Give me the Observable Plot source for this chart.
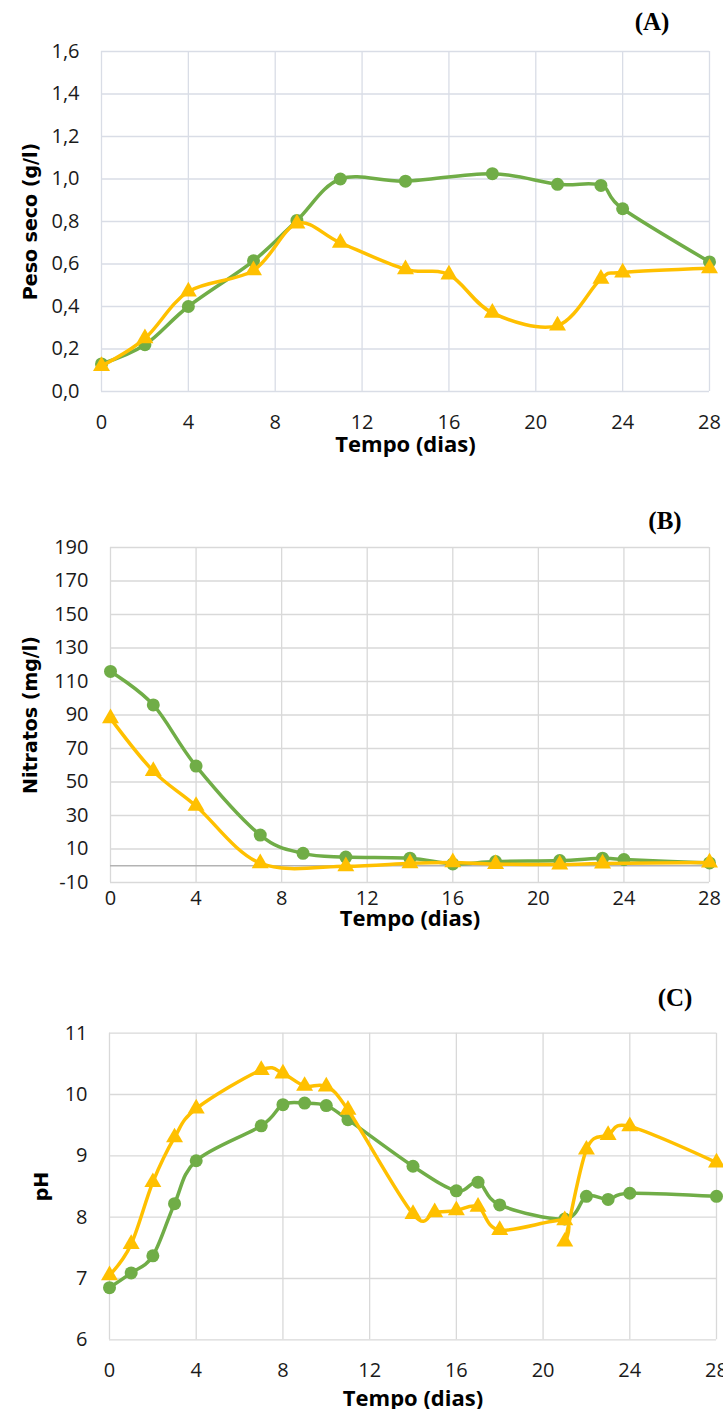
<!DOCTYPE html>
<html><head><meta charset="utf-8">
<script src="https://cdn.jsdelivr.net/npm/d3@7"></script>
<script src="https://cdn.jsdelivr.net/npm/@observablehq/plot@0.6"></script>
<style>
body{margin:0;background:#fff;width:723px;height:1409px;position:relative;overflow:hidden}
.panel{position:absolute;left:0}
.tag{position:absolute;font-family:"Liberation Serif";font-weight:bold;font-size:25px;color:#000;transform:translate(-50%,-50%);line-height:1}
</style></head><body>
<div id="A" class="panel" style="top:0"></div>
<div id="B" class="panel" style="top:470px"></div>
<div id="C" class="panel" style="top:950px"></div>
<div class="tag" style="left:652px;top:21px">(A)</div>
<div class="tag" style="left:665px;top:520px">(B)</div>
<div class="tag" style="left:675px;top:997px">(C)</div>
<script>
// X ticks (dias)
const xTicks = [0,4,8,12,16,20,24,28];

// (A) Peso seco (g/l)
const diaA_verde = [0,2,4,7,9,11,14,18,21,23,24,28];
const pesoA_verde = [0.13,0.22,0.40,0.615,0.805,1.0,0.99,1.025,0.975,0.97,0.86,0.61];
const diaA_amarelo = [0,2,4,7,9,11,14,16,18,21,23,24,28];
const pesoA_amarelo = [0.12,0.25,0.47,0.57,0.79,0.70,0.575,0.55,0.37,0.31,0.53,0.56,0.58];
const yTicksA = [0,0.2,0.4,0.6,0.8,1.0,1.2,1.4,1.6];

// (B) Nitratos (mg/l)
const diaB_verde = [0,2,4,7,9,11,14,16,18,21,23,24,28];
const nitB_verde = [116,96,59.5,18.3,7.4,5.2,4.5,1.1,2.5,3.1,4.5,3.7,1.7];
const diaB_amarelo = [0,2,4,7,11,14,16,18,21,23,28];
const nitB_amarelo = [88,56.5,35.7,1.5,-0.3,1.5,2,1,0.7,1.3,1.9];
const yTicksB = [-10,10,30,50,70,90,110,130,150,170,190];

// (C) pH
const diaC_verde = [0,1,2,3,4,7,8,9,10,11,14,16,17,18,21,22,23,24,28];
const phC_verde = [6.85,7.09,7.37,8.22,8.92,9.49,9.835,9.86,9.82,9.59,8.83,8.43,8.57,8.2,7.97,8.34,8.29,8.39,8.34];
const diaC_amarelo = [0,1,2,3,4,7,8,9,10,11,14,15,16,17,18,21,21,22,23,24,28];
const phC_amarelo = [7.05,7.56,8.57,9.3,9.77,10.4,10.34,10.14,10.13,9.75,8.05,8.08,8.11,8.17,7.79,7.95,7.6,9.1,9.34,9.48,8.89];
const yTicksC = [6,7,8,9,10,11];

const VERDE = "#70ad47", AMARELO = "#ffc000";
const zip = (xs, ys) => xs.map((x, i) => ({x, y: ys[i]}));

function panel(o) {
  const g = zip(o.gx, o.gy), a = zip(o.ax, o.ay);
  const marks = [
    Plot.gridX(xTicks, {stroke: o.grid, strokeOpacity: 1, strokeWidth: 1.3}),
    Plot.gridY(o.yTicks, {stroke: o.grid, strokeOpacity: 1, strokeWidth: 1.3}),
  ];
  if (o.zero) marks.push(Plot.ruleY([0], {stroke: "#b3b3b3", strokeWidth: 1.5}));
  marks.push(
    Plot.axisX(xTicks, {tickSize: 0, tickPadding: o.xPad, label: null, tickFormat: d => String(d),
      fontSize: 20, fontFamily: "Open Sans", fill: "#1a1a1a"}),
    Plot.axisY(o.yTicks, {tickSize: 0, tickPadding: 22, label: null, tickFormat: o.fmt,
      fontSize: 20, fontFamily: "Open Sans", fill: "#1a1a1a"}),
    Plot.line(g, {x: "x", y: "y", curve: "cardinal", stroke: VERDE, strokeWidth: 3.5}),
    Plot.dot(g, {x: "x", y: "y", r: 6.5, fill: VERDE, symbol: "circle"}),
    Plot.line(a, {x: "x", y: "y", curve: "cardinal", stroke: AMARELO, strokeWidth: 3.5}),
    Plot.dot(a, {x: "x", y: "y", r: 6.3, fill: AMARELO, symbol: "triangle"}),
    Plot.text([o.ylabel], {text: d => d, frameAnchor: "left", rotate: -90, dx: o.ylDx, textAnchor: "middle", lineAnchor: "middle",
      fontFamily: "DejaVu Sans", fontWeight: "bold", fontSize: 19, fill: "#000"}),
    Plot.text(["Tempo (dias)"], {text: d => d, frameAnchor: "bottom", dy: o.xlDy, textAnchor: "middle", lineAnchor: "middle",
      fontFamily: "Open Sans", fontWeight: "bold", fontSize: 22, fill: "#000"})
  );
  const svg = Plot.plot({
    width: 723, height: o.height,
    marginTop: o.mt, marginBottom: o.mb, marginLeft: o.ml, marginRight: o.mr,
    x: {domain: [0, 28]}, y: {domain: o.yDomain},
    style: {fontFamily: "Open Sans", fontSize: "20px", color: "#1a1a1a", background: "transparent", overflow: "visible"},
    marks
  });
  document.getElementById(o.el).appendChild(svg);
}

panel({el: "A", height: 470, mt: 51, mb: 79, ml: 101, mr: 14, yDomain: [0, 1.6], yTicks: yTicksA,
  fmt: d => d.toFixed(1).replace(".", ","), gx: diaA_verde, gy: pesoA_verde, ax: diaA_amarelo, ay: pesoA_amarelo,
  ylabel: "Peso seco (g/l)", ylDx: -71, xlDy: 53, xPad: 23, grid: "#d9dde6"});

panel({el: "B", height: 480, mt: 77, mb: 68, ml: 110, mr: 14, yDomain: [-10, 190], yTicks: yTicksB,
  fmt: d => String(d), gx: diaB_verde, gy: nitB_verde, ax: diaB_amarelo, ay: nitB_amarelo, zero: true,
  ylabel: "Nitratos (mg/l)", ylDx: -80, xlDy: 36, xPad: 8, grid: "#d9d9d9"});

panel({el: "C", height: 459, mt: 82.7, mb: 69.7, ml: 109, mr: 7, yDomain: [6, 11], yTicks: yTicksC,
  fmt: d => String(d), gx: diaC_verde, gy: phC_verde, ax: diaC_amarelo, ay: phC_amarelo,
  ylabel: "pH", ylDx: -68, xlDy: 59, xPad: 23, grid: "#d9d9d9"});
</script>
</body></html>
